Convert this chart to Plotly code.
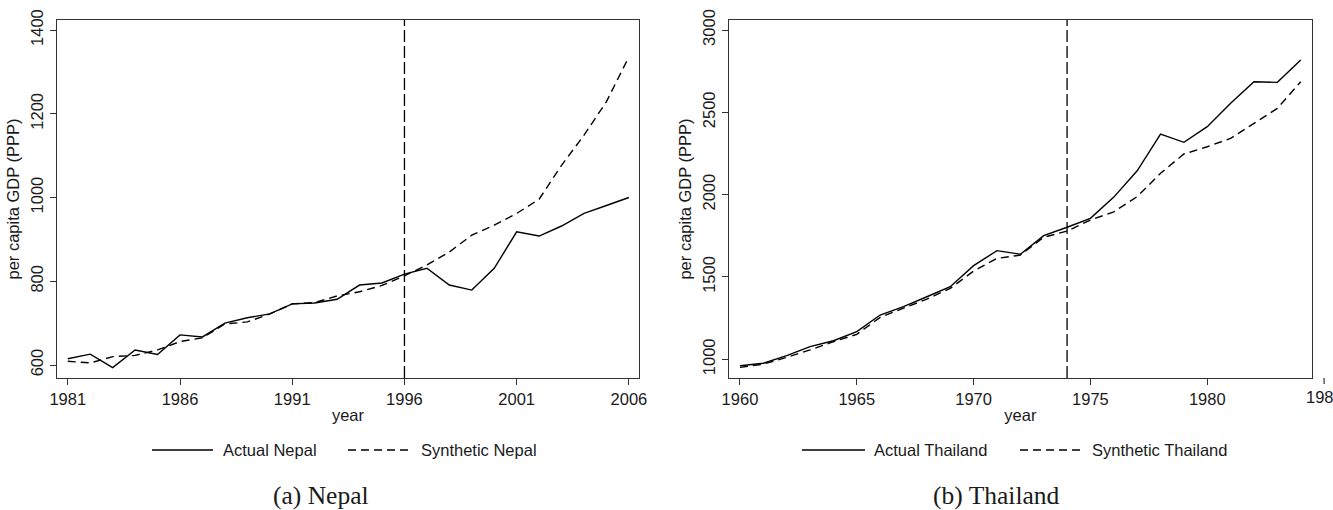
import plotly.graph_objects as go
from plotly.subplots import make_subplots

# ---------------- data ----------------
nepal_years = list(range(1981, 2007))
nepal_actual = [615, 626, 594, 636, 625, 672, 667, 700, 713, 722, 746, 748, 757,
                791, 796, 817, 831, 791, 779, 831, 918, 908, 932, 962, 981, 1000]
nepal_synth = [609, 605, 620, 623, 636, 656, 665, 698, 703, 722, 746, 749, 765,
               775, 790, 813, 839, 870, 910, 934, 962, 996, 1077, 1149, 1229, 1336]
nepal_treat = 1996

thai_years = list(range(1960, 1985))
thai_actual = [961, 976, 1022, 1077, 1113, 1168, 1269, 1320, 1380, 1441, 1569, 1660,
               1638, 1751, 1802, 1856, 1985, 2145, 2368, 2318, 2413, 2555, 2686, 2682, 2818]
thai_synth = [951, 971, 1012, 1057, 1107, 1152, 1255, 1310, 1366, 1431, 1536, 1613,
              1633, 1741, 1779, 1846, 1896, 1988, 2130, 2247, 2291, 2342, 2433, 2524, 2686]
thai_treat = 1974

nepal_xticks = [1981, 1986, 1991, 1996, 2001, 2006]
nepal_yticks = [600, 800, 1000, 1200, 1400]
thai_xticks = [1960, 1965, 1970, 1975, 1980]
thai_extra_tick = 1985
thai_yticks = [1000, 1500, 2000, 2500, 3000]

labels_left = ["Actual Nepal", "Synthetic Nepal"]
labels_right = ["Actual Thailand", "Synthetic Thailand"]
captions = ["(a) Nepal", "(b) Thailand"]
ytitle = "per capita GDP (PPP)"
xtitle = "year"

# ---------------- layout geometry ----------------
W, H = 1333, 510
FONT = "Liberation Sans, Arial, sans-serif"
TXT = "#1a1a1a"
FS = 16.5

def px(x):
    return x / W

def py(y):
    return 1 - y / H

left_dom = [px(57), px(639)]
right_dom = [px(729), px(1311.7)]
y_dom = [py(378), py(20)]

nepal_xrange = [1980.52, 2006.45]
nepal_yrange = [569, 1424]
thai_xrange = [1959.53, 1984.47]
thai_yrange = [886.6, 3060.7]

fig = make_subplots(rows=1, cols=2)

LW = 1.4
SYN_DASH = "8px,5px"

fig.add_trace(go.Scatter(x=nepal_years, y=nepal_actual, mode="lines",
                         line=dict(color="black", width=LW), name=labels_left[0],
                         showlegend=False), row=1, col=1)
fig.add_trace(go.Scatter(x=nepal_years, y=nepal_synth, mode="lines",
                         line=dict(color="black", width=LW, dash=SYN_DASH),
                         name=labels_left[1], showlegend=False), row=1, col=1)
fig.add_trace(go.Scatter(x=thai_years, y=thai_actual, mode="lines",
                         line=dict(color="black", width=LW), name=labels_right[0],
                         showlegend=False), row=1, col=2)
fig.add_trace(go.Scatter(x=thai_years, y=thai_synth, mode="lines",
                         line=dict(color="black", width=LW, dash=SYN_DASH),
                         name=labels_right[1], showlegend=False), row=1, col=2)

fig.add_vline(x=nepal_treat, line=dict(color="black", width=1.3, dash="12px,4px"), row=1, col=1)
fig.add_vline(x=thai_treat, line=dict(color="black", width=1.3, dash="12px,4px"), row=1, col=2)

axis_common = dict(showgrid=False, zeroline=False, showline=True, mirror=True,
                   linecolor="#333333", linewidth=1.3, ticks="outside", ticklen=6,
                   tickwidth=1.2, tickcolor="#333333", automargin=False,
                   tickfont=dict(family=FONT, size=FS, color=TXT))

fig.update_xaxes(**axis_common)
fig.update_yaxes(**axis_common)

fig.update_xaxes(domain=left_dom, range=nepal_xrange, tickvals=nepal_xticks,
                 title=dict(text=xtitle, font=dict(family=FONT, size=FS, color=TXT), standoff=2),
                 row=1, col=1)
fig.update_xaxes(domain=right_dom, range=thai_xrange, tickvals=thai_xticks,
                 title=dict(text=xtitle, font=dict(family=FONT, size=FS, color=TXT), standoff=2),
                 row=1, col=2)
fig.update_yaxes(domain=y_dom, range=nepal_yrange, tickvals=nepal_yticks, tickangle=-90,
                 title=dict(text=ytitle, font=dict(family=FONT, size=FS, color=TXT), standoff=4),
                 row=1, col=1)
fig.update_yaxes(domain=y_dom, range=thai_yrange, tickvals=thai_yticks, tickangle=-90,
                 title=dict(text=ytitle, font=dict(family=FONT, size=FS, color=TXT), standoff=4),
                 row=1, col=2)

# extra 1985 tick beyond the right panel's axis end
xt = right_dom[0] + (thai_extra_tick - thai_xrange[0]) / (thai_xrange[1] - thai_xrange[0]) * (right_dom[1] - right_dom[0])
fig.add_shape(type="line", xref="paper", yref="paper", x0=xt, x1=xt,
              y0=y_dom[0], y1=y_dom[0] - 6 / H, line=dict(color="#333333", width=1.2))
fig.add_annotation(xref="paper", yref="paper", x=xt, y=py(397), text=str(thai_extra_tick),
                   showarrow=False, xanchor="center", yanchor="middle",
                   font=dict(family=FONT, size=FS, color=TXT))

# custom legends
LEG_Y = py(450)
def legend(items, xs):
    for (label, dash), (l0, l1, tx) in zip(items, xs):
        fig.add_shape(type="line", xref="paper", yref="paper", x0=px(l0), x1=px(l1),
                      y0=LEG_Y, y1=LEG_Y, line=dict(color="black", width=LW, dash=dash))
        fig.add_annotation(xref="paper", yref="paper", x=px(tx), y=LEG_Y, text=label,
                           showarrow=False, xanchor="left", yanchor="middle",
                           font=dict(family=FONT, size=FS, color=TXT))

legend([(labels_left[0], "solid"), (labels_left[1], SYN_DASH)],
       [(152, 213, 221), (348, 410, 419)])
legend([(labels_right[0], "solid"), (labels_right[1], SYN_DASH)],
       [(802, 865, 872), (1020, 1083, 1090)])

# captions
for cap, cx in zip(captions, [321, 996]):
    fig.add_annotation(xref="paper", yref="paper", x=px(cx), y=py(495), text=cap,
                       showarrow=False, xanchor="center", yanchor="middle",
                       font=dict(family="Liberation Serif, Times New Roman, serif", size=25.5, color=TXT))

fig.update_layout(template="none", width=W, height=H, autosize=False,
                  margin=dict(l=0, r=0, t=0, b=0, pad=0),
                  paper_bgcolor="white", plot_bgcolor="white", showlegend=False,
                  font=dict(family=FONT, size=FS, color=TXT))

fig.write_html("out.html", config={"displayModeBar": False},
               post_script="document.body.style.margin='0';document.body.style.overflow='hidden';")
